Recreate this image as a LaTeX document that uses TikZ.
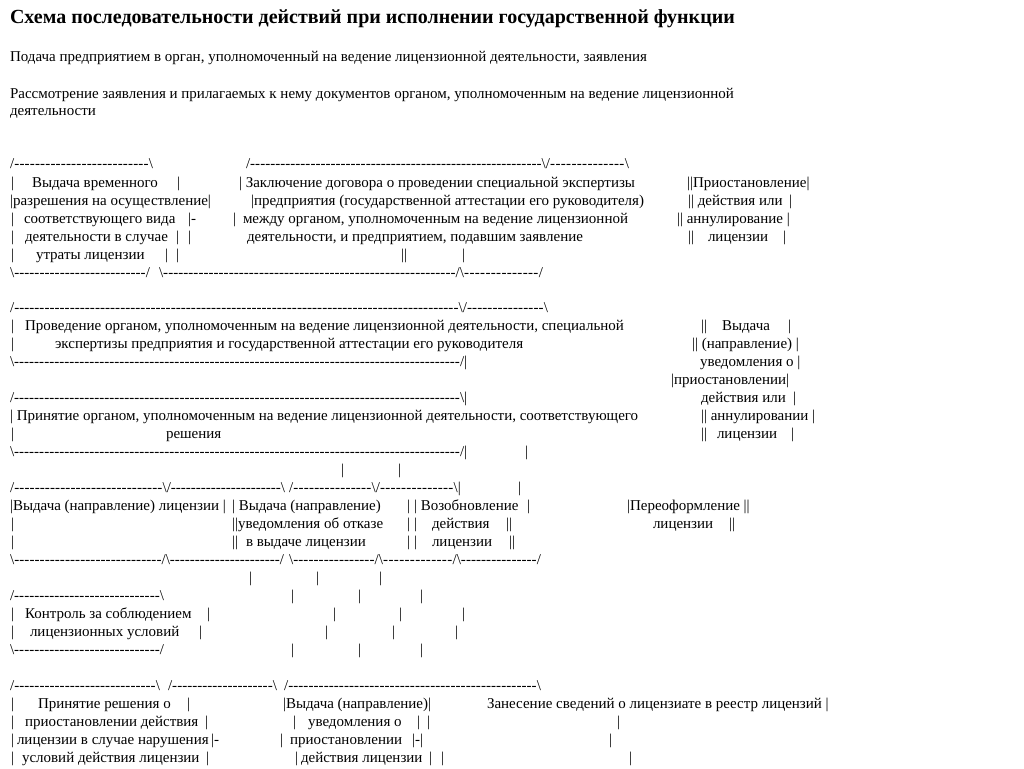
\documentclass[tikz,border=0pt]{standalone}
\usepackage{fontspec}
\setmainfont{Liberation Serif}
\newcommand\bs{\textbackslash}
% a row of hyphens from x1 to x2 at baseline y
\newcommand\dr[3]{\node[txt] at (#1,-#3) {\hbox to \dimexpr#2pt-#1pt\relax{\xleaders\hbox{-}\hfill}};}
\newcommand\tx[3]{\node[txt] at (#1,-#2) {#3};}
\begin{document}
\begin{tikzpicture}[x=1pt,y=1pt,
    txt/.style={anchor=base west,inner sep=0pt,outer sep=0pt,font=\fontsize{15}{18}\selectfont}]
\useasboundingbox[fill=white] (0,0) rectangle (1024,-768);
% header
\node[txt,font=\fontsize{20}{22}\selectfont\bfseries] (title) at (10,-24)
  {Схема последовательности действий при исполнении государственной функции};
\node[txt] (podacha) at (10,-62)
  {Подача предприятием в орган, уполномоченный на ведение лицензионной деятельности, заявления};
\node[txt] (rassm) at (10,-98)
  {Рассмотрение заявления и прилагаемых к нему документов органом, уполномоченным на ведение лицензионной};
\node[txt] (rassm2) at (10,-115) {деятельности};
%===============================
% block 1
\tx{10}{168}{/}\dr{14.2}{148.8}{168}\tx{148.8}{168}{\bs}
\tx{246}{168}{/}\dr{250.2}{541.6}{168}\tx{541.6}{168}{\bs/}\dr{549.9}{624.8}{168}\tx{624.8}{168}{\bs}
\tx{11}{187}{|}\tx{32}{187}{Выдача временного}\tx{177}{187}{|}
\tx{239}{187}{| Заключение договора о проведении специальной экспертизы}
\tx{687}{187}{||Приостановление|}
\tx{10}{205}{|разрешения на осуществление|}
\tx{251}{205}{|предприятия (государственной аттестации его руководителя)}
\tx{688}{205}{|| действия или}\tx{789}{205}{|}
\tx{11}{223}{|}\tx{24}{223}{соответствующего вида}\tx{188}{223}{|-}
\tx{233}{223}{|}\tx{243}{223}{между органом, уполномоченным на ведение лицензионной}
\tx{677}{223}{|| аннулирование |}
\tx{11}{241}{|}\tx{25}{241}{деятельности в случае}\tx{176}{241}{|}\tx{188}{241}{|}
\tx{247}{241}{деятельности, и предприятием, подавшим заявление}
\tx{688}{241}{||}\tx{708}{241}{лицензии}\tx{783}{241}{|}
\tx{11}{259}{|}\tx{36}{259}{утраты лицензии}\tx{165}{259}{|}\tx{176}{259}{|}
\tx{401}{259}{||}\tx{462}{259}{|}
\tx{10}{277}{\bs}\dr{14.2}{145.8}{277}\tx{145.8}{277}{/}
\tx{159}{277}{\bs}\dr{163.2}{455.6}{277}\tx{455.6}{277}{/\bs}\dr{463.9}{538.8}{277}\tx{538.8}{277}{/}
%===============================
% block 2
\tx{10}{312}{/}\dr{14.2}{458.6}{312}\tx{458.6}{312}{\bs/}\dr{466.9}{543.8}{312}\tx{543.8}{312}{\bs}
\tx{11}{330}{|}
\tx{25}{330}{Проведение органом, уполномоченным на ведение лицензионной деятельности, специальной}
\tx{701}{330}{||}\tx{722}{330}{Выдача}\tx{788}{330}{|}
\tx{11}{348}{|}
\tx{55}{348}{экспертизы предприятия и государственной аттестации его руководителя}
\tx{692}{348}{|| (направление) |}
\tx{10}{366}{\bs}\dr{14.2}{460}{366}\tx{460}{366}{/|}
\tx{700}{366}{уведомления о |}
\tx{671}{384}{|приостановлении|}
\tx{10}{402}{/}\dr{14.2}{460}{402}\tx{460}{402}{\bs|}
\tx{701}{402}{действия или}\tx{793}{402}{|}
\tx{10}{420}{| Принятие органом, уполномоченным на ведение лицензионной деятельности, соответствующего}
\tx{701}{420}{|| аннулировании |}
\tx{11}{438}{|}\tx{166}{438}{решения}
\tx{701}{438}{||}\tx{717}{438}{лицензии}\tx{791}{438}{|}
\tx{10}{456}{\bs}\dr{14.2}{460}{456}\tx{460}{456}{/|}\tx{525}{456}{|}
\tx{341}{474}{|}\tx{398}{474}{|}
%===============================
% block 3
\tx{10}{492}{/}\dr{14.2}{162.6}{492}\tx{162.6}{492}{\bs/}\dr{170.9}{280.8}{492}\tx{280.8}{492}{\bs}
\tx{289}{492}{/}\dr{293.2}{371.6}{492}\tx{371.6}{492}{\bs/}\dr{379.9}{453.6}{492}\tx{453.6}{492}{\bs|}
\tx{518}{492}{|}
\tx{10}{510}{|Выдача (направление) лицензии |}
\tx{232}{510}{| Выдача (направление)}\tx{407}{510}{|}
\tx{414}{510}{| Возобновление}\tx{527}{510}{|}
\tx{627}{510}{|Переоформление ||}
\tx{11}{528}{|}\tx{232}{528}{||уведомления об отказе}\tx{407}{528}{|}\tx{414}{528}{|}
\tx{432}{528}{действия}\tx{506}{528}{||}
\tx{653}{528}{лицензии}\tx{729}{528}{||}
\tx{11}{546}{|}\tx{232}{546}{||}\tx{246}{546}{в выдаче лицензии}\tx{407}{546}{|}\tx{414}{546}{|}
\tx{432}{546}{лицензии}\tx{509}{546}{||}
\tx{10}{564}{\bs}\dr{14.2}{161.6}{564}\tx{161.6}{564}{/\bs}\dr{169.9}{279.8}{564}\tx{279.8}{564}{/}
\tx{289}{564}{\bs}\dr{293.2}{374.6}{564}\tx{374.6}{564}{/\bs}\dr{382.9}{452.6}{564}\tx{452.6}{564}{/\bs}
\dr{460.9}{536.8}{564}\tx{536.8}{564}{/}
\tx{249}{582}{|}\tx{316}{582}{|}\tx{379}{582}{|}
\tx{10}{600}{/}\dr{14.2}{159.8}{600}\tx{159.8}{600}{\bs}
\tx{291}{600}{|}\tx{358}{600}{|}\tx{420}{600}{|}
\tx{11}{618}{|}\tx{25}{618}{Контроль за соблюдением}\tx{207}{618}{|}
\tx{333}{618}{|}\tx{399}{618}{|}\tx{462}{618}{|}
\tx{11}{636}{|}\tx{30}{636}{лицензионных условий}\tx{199}{636}{|}
\tx{325}{636}{|}\tx{392}{636}{|}\tx{455}{636}{|}
\tx{10}{654}{\bs}\dr{14.2}{159.8}{654}\tx{159.8}{654}{/}
\tx{291}{654}{|}\tx{358}{654}{|}\tx{420}{654}{|}
%===============================
% block 4
\tx{10}{690}{/}\dr{14.2}{155.8}{690}\tx{155.8}{690}{\bs}
\tx{168}{690}{/}\dr{172.2}{272.8}{690}\tx{272.8}{690}{\bs}
\tx{284}{690}{/}\dr{288.2}{536.8}{690}\tx{536.8}{690}{\bs}
\tx{11}{708}{|}\tx{38}{708}{Принятие решения о}\tx{187}{708}{|}
\tx{283}{708}{|Выдача (направление)|}
\tx{487}{708}{Занесение сведений о лицензиате в реестр лицензий |}
\tx{11}{726}{|}\tx{25}{726}{приостановлении действия}\tx{205}{726}{|}
\tx{293}{726}{|}\tx{308}{726}{уведомления о}\tx{417}{726}{|}\tx{427}{726}{|}\tx{617}{726}{|}
\tx{11}{744}{|}\tx{17}{744}{лицензии в случае нарушения}\tx{211}{744}{|-}
\tx{280}{744}{|}\tx{290}{744}{приостановлении}\tx{412}{744}{|-|}\tx{609}{744}{|}
\tx{11}{762}{|}\tx{22}{762}{условий действия лицензии}\tx{206}{762}{|}
\tx{295}{762}{|}\tx{301}{762}{действия лицензии}\tx{429}{762}{|}\tx{441}{762}{|}\tx{629}{762}{|}
\end{tikzpicture}
\end{document}
